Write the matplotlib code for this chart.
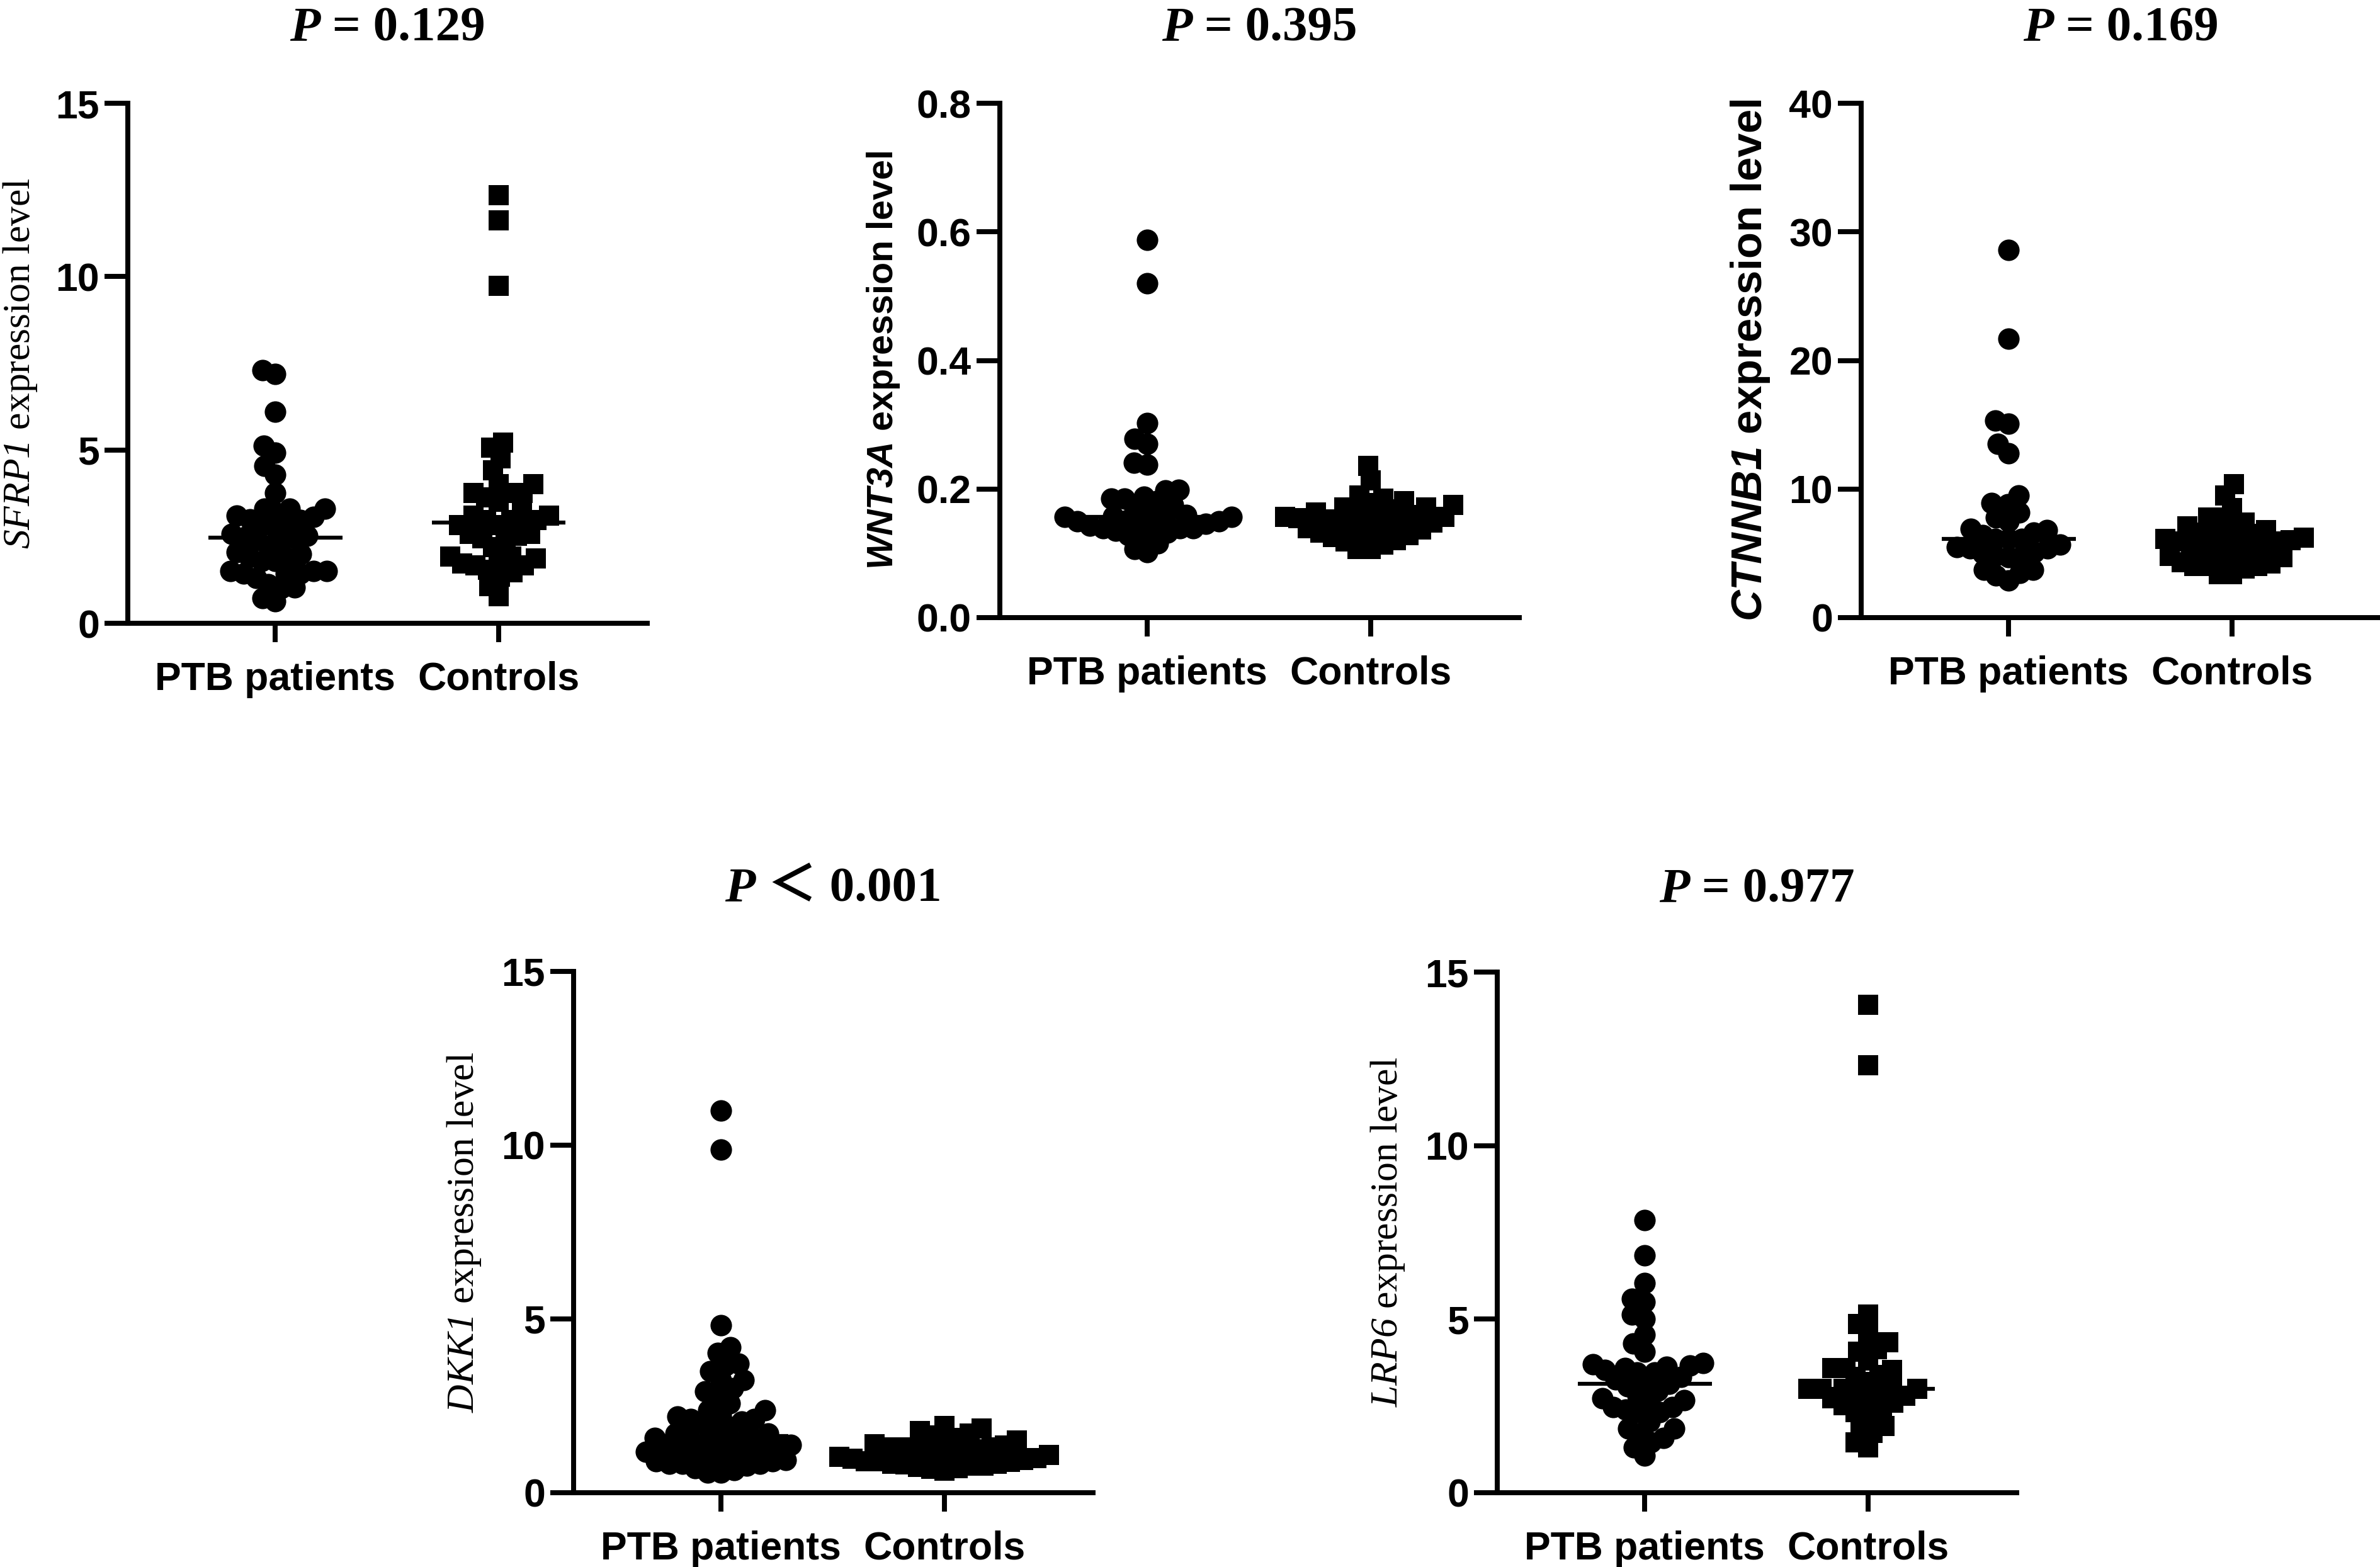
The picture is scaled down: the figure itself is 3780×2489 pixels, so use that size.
import numpy as np
import matplotlib
matplotlib.use("Agg")
import matplotlib.pyplot as plt
from matplotlib.offsetbox import TextArea, HPacker, AnnotationBbox

# ------------------------------------------------------------
# Data
groups = ["PTB patients", "Controls"]

sfrp1_ptb = [7.2, 7.3, 6.1, 5.13, 4.93, 4.54, 4.28, 3.76, 3.1, 2.84, 2.97, 3.17, 3.0,
             3.3, 3.3, 3.3, 3.07, 2.52, 2.36, 2.58, 2.45, 2.48, 2.74, 2.84, 2.39, 2.19,
             1.9, 1.8, 1.8, 1.87, 2.0, 2.06, 1.43, 1.43, 1.43, 1.51, 1.51, 1.51, 1.3,
             1.02, 1.12, 1.04, 0.73, 0.63]
sfrp1_ctrl = [12.34, 11.62, 9.73, 5.22, 5.06, 4.76, 4.41, 4.02, 3.76, 4.02, 3.76, 3.5,
              3.76, 3.63, 3.23, 2.84, 3.1, 2.84, 2.97, 2.97, 3.1, 2.97, 2.19, 2.52, 2.58,
              2.32, 2.58, 2.45, 1.93, 1.93, 1.54, 1.67, 1.67, 1.47, 1.73, 1.8, 1.87,
              1.08, 0.78, 1.34]

wnt3a_ptb = [0.588, 0.52, 0.303, 0.27, 0.278, 0.238, 0.241, 0.199, 0.198, 0.185, 0.181,
             0.188, 0.185, 0.151, 0.158, 0.1425, 0.15, 0.157, 0.164, 0.157, 0.15, 0.157,
             0.146, 0.16, 0.139, 0.139, 0.125, 0.132, 0.128, 0.116, 0.107, 0.1016,
             0.1425, 0.139, 0.17, 0.175, 0.145, 0.135]
wnt3a_ctrl = [0.236, 0.213, 0.185, 0.157, 0.135, 0.125, 0.157, 0.178, 0.164, 0.171,
              0.181, 0.153, 0.171, 0.139, 0.107, 0.114, 0.107, 0.128, 0.15, 0.139, 0.128,
              0.164, 0.19, 0.175, 0.145, 0.16, 0.148, 0.132, 0.12, 0.155, 0.168, 0.142,
              0.118, 0.152, 0.16, 0.137]

ctnnb1_ptb = [28.6, 21.7, 15.3, 15.1, 13.5, 12.8, 9.5, 8.8, 8.9, 8.2, 7.8, 7.5, 6.9,
              6.8, 6.6, 6.4, 4.8, 4.8, 5.5, 6.1, 5.7, 6.1, 5.4, 5.4, 6.1, 5.1, 3.3, 3.7,
              3.7, 3.5, 2.9, 5.0, 4.7]
ctnnb1_ctrl = [10.4, 9.5, 8.5, 7.1, 7.8, 7.8, 7.1, 5.5, 5.9, 6.2, 6.6, 6.8, 6.2, 6.1,
               5.9, 5.5, 4.0, 4.3, 3.4, 4.0, 3.4, 4.0, 5.0, 5.2, 4.7, 6.4, 5.7, 4.5, 5.3,
               6.0, 4.8, 3.8, 5.6, 4.2, 7.4, 6.5]

dkk1_ptb = [11.0, 9.88, 4.82, 4.19, 4.02, 3.72, 3.66, 3.25, 3.25, 2.72, 2.58, 2.92,
            2.38, 2.12, 2.25, 2.12, 1.58, 1.45, 1.71, 1.98, 2.05, 1.85, 1.71, 1.38, 1.31,
            0.91, 0.58, 0.78, 0.84, 1.04, 0.58, 0.84, 0.84, 0.91, 1.18, 1.31, 1.45, 1.31,
            1.18, 2.38, 1.6, 1.2, 0.95, 1.1, 1.5, 0.7, 1.9, 1.25, 1.0, 0.65, 2.2, 1.65,
            3.5, 3.0]
dkk1_ctrl = [1.85, 1.92, 1.78, 1.65, 1.25, 1.45, 1.31, 1.31, 1.04, 0.78, 0.84, 0.64,
             0.91, 0.84, 0.71, 0.91, 0.78, 1.18, 1.31, 1.04, 1.11, 1.58, 1.0, 0.95, 1.2,
             0.88, 1.4, 0.75, 1.15, 0.98, 1.5, 0.68, 1.08, 0.82, 1.35, 1.7]

lrp6_ptb = [7.86, 6.84, 6.04, 5.58, 5.50, 5.0, 5.14, 4.56, 4.29, 4.07, 3.70, 3.66, 3.46,
            3.33, 3.60, 3.46, 3.53, 3.73, 3.62, 3.26, 3.06, 3.13, 3.13, 2.93, 2.79, 2.32,
            2.59, 2.66, 2.72, 2.39, 2.46, 2.32, 2.46, 2.05, 1.85, 1.58, 1.85, 1.72, 1.31,
            1.45, 1.07]
lrp6_ctrl = [14.06, 12.32, 5.14, 4.87, 4.60, 4.33, 4.13, 4.07, 3.53, 3.60, 3.60, 3.33,
             3.19, 2.99, 2.72, 2.99, 3.06, 2.99, 2.86, 2.79, 2.32, 2.52, 2.25, 2.39, 1.72,
             1.92, 1.92, 1.45, 1.31, 2.79, 3.4, 2.6, 3.0, 2.7, 3.8]

p_values = ["= 0.129", "= 0.395", "= 0.169", "\uff1c 0.001", "= 0.977"]
genes = ["SFRP1", "WNT3A", "CTNNB1", "DKK1", "LRP6"]
yticks = [[0, 5, 10, 15], [0.0, 0.2, 0.4, 0.6, 0.8], [0, 10, 20, 30, 40],
          [0, 5, 10, 15], [0, 5, 10, 15]]
ytick_labels = [["0", "5", "10", "15"], ["0.0", "0.2", "0.4", "0.6", "0.8"],
                ["0", "10", "20", "30", "40"], ["0", "5", "10", "15"], ["0", "5", "10", "15"]]

# ------------------------------------------------------------
# Fonts
plt.rcParams["font.family"] = "Liberation Sans"
plt.rcParams["mathtext.fontset"] = "custom"
plt.rcParams["mathtext.rm"] = "Liberation Serif"
plt.rcParams["mathtext.it"] = "Liberation Serif:italic"
plt.rcParams["mathtext.cal"] = "Liberation Serif:italic"
plt.rcParams["mathtext.bf"] = "Liberation Serif:bold"
plt.rcParams["mathtext.sf"] = "Liberation Sans:bold:italic"

W, H = 3780, 2489
fig = plt.figure(figsize=(W / 300, H / 300), dpi=300)

# axes boxes in pixels: left, top, bottom
boxes = [(203, 164, 990), (1588, 164, 981), (2956, 164, 981),
         (911, 1543, 2371), (2378, 1544, 2371)]
ax_w = 825
xlim = (-0.66, 1.665)
px_per_cat = ax_w / (xlim[1] - xlim[0])

# y label: serif (SFRP1, DKK1, LRP6) or bold sans (WNT3A, CTNNB1)
ylab_style = ["serif", "sans", "sans", "serif", "serif"]
ylab_size = [14.8, 13.8, 16.5, 14.8, 14.8]
ylab_off = [-171, -185, -176, -174, -174]
title_off = [118, 118, 118, 130, 130]

data = [(sfrp1_ptb, sfrp1_ctrl), (wnt3a_ptb, wnt3a_ctrl), (ctnnb1_ptb, ctnnb1_ctrl),
        (dkk1_ptb, dkk1_ctrl), (lrp6_ptb, lrp6_ctrl)]


def swarm(vals, ppu_y, gx, gy):
    # beeswarm in pixel space (elliptic spacing), returns x offsets in category units
    vals = np.asarray(vals, dtype=float)
    ys = vals * ppu_y
    xs = np.zeros(len(vals))
    placed = []
    for i in np.argsort(vals):
        y = ys[i]
        cands = [0.0]
        near = []
        for xj, yj in placed:
            dy = abs(y - yj)
            if dy < gy:
                dx = gx * np.sqrt(1 - (dy / gy) ** 2)
                near.append((xj, dx))
                cands += [xj - dx, xj + dx]
        best = None
        for c in sorted(cands, key=abs):
            if all(abs(c - xj) >= dx - 1e-6 for xj, dx in near):
                best = c
                break
        xs[i] = best
        placed.append((best, y))
    return xs / px_per_cat


for k in range(5):
    left, top, bottom = boxes[k]
    ax = fig.add_axes([left / W, 1 - bottom / H, ax_w / W, (bottom - top) / H])
    ymax = yticks[k][-1]
    ppu_y = (bottom - top) / ymax
    ptb, ctrl = data[k]

    for g, (vals, mk, sz) in enumerate([(ptb, "o", 8.2), (ctrl, "s", 7.9)]):
        xo = swarm(vals, ppu_y, 21, 24)
        ax.scatter(g + xo, vals, marker=mk, s=sz ** 2, color="black",
                   linewidths=0, zorder=3, clip_on=False)
        ax.plot([g - 0.3, g + 0.3], [np.median(vals)] * 2, color="black",
                lw=1.5, solid_capstyle="butt", zorder=2)

    ax.set_xlim(*xlim)
    ax.set_ylim(0, ymax)
    ax.set_xticks([0, 1])
    ax.set_xticklabels(groups, fontsize=15, fontweight="bold")
    ax.set_yticks(yticks[k])
    ax.set_yticklabels(ytick_labels[k], fontsize=15, fontweight="bold")
    for s in ["top", "right"]:
        ax.spines[s].set_visible(False)
    for s in ["left", "bottom"]:
        ax.spines[s].set_linewidth(1.9)
    ax.tick_params(axis="y", length=8.8, width=1.9, pad=2)
    ax.tick_params(axis="x", length=7.3, width=1.9, pad=7)

    # y label
    if ylab_style[k] == "serif":
        ax.text(ylab_off[k] / ax_w, 0.5, r"$\mathcal{%s}$ expression level" % genes[k],
                transform=ax.transAxes, rotation=90, ha="center", va="center",
                family="Liberation Serif", fontsize=ylab_size[k])
    else:
        ax.text(ylab_off[k] / ax_w, 0.5, r"$\mathsf{%s}$ expression level" % genes[k],
                transform=ax.transAxes, rotation=90, ha="center", va="center",
                family="Liberation Sans", fontweight="bold", fontsize=ylab_size[k])

    # P value title
    fam = ["Liberation Serif", "Noto Sans CJK SC"]
    t1 = TextArea("P", textprops=dict(family=fam, weight="bold", style="italic", size=19))
    t2 = TextArea(" " + p_values[k], textprops=dict(family=fam, weight="bold", size=19))
    box = HPacker(children=[t1, t2], align="baseline", pad=0, sep=0)
    ab = AnnotationBbox(box, (0.5, 1.0), xycoords="axes fraction",
                        xybox=(0, title_off[k] * 72 / 300), boxcoords="offset points",
                        frameon=False, box_alignment=(0.5, 0.5))
    ax.add_artist(ab)

fig.savefig("out.png", dpi=300)
